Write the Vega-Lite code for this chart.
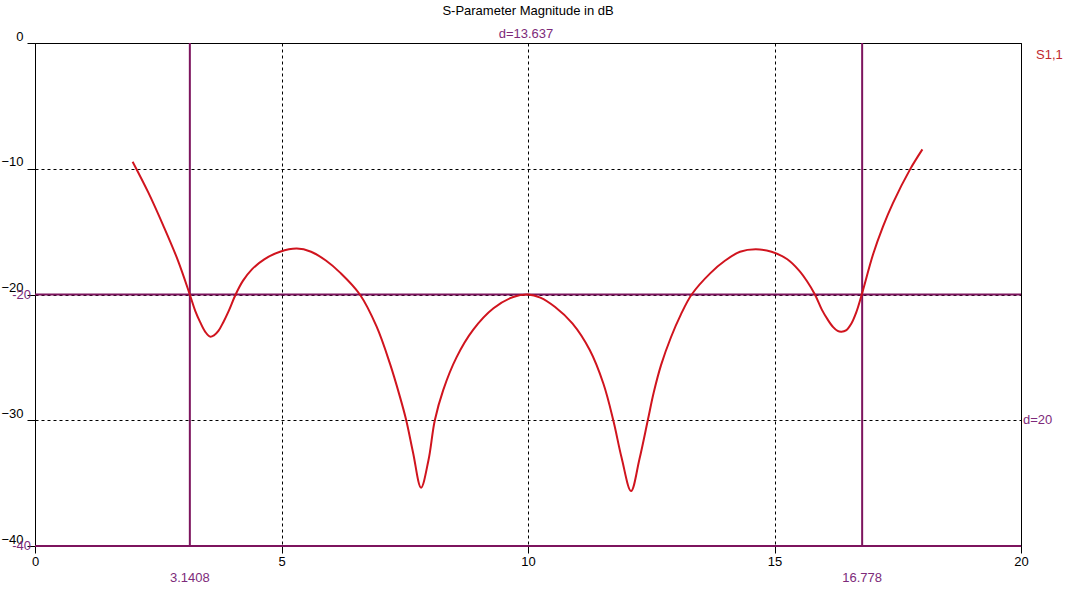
{
  "$schema": "https://vega.github.io/schema/vega-lite/v6.json",
  "width": 986,
  "height": 503,
  "autosize": "none",
  "padding": {"left": 35, "top": 43, "right": 48, "bottom": 45},
  "background": "white",
  "config": {
    "view": {"stroke": "black", "strokeWidth": 1},
    "font": "Liberation Sans",
    "text": {"font": "Liberation Sans", "fontSize": 13}
  },
  "title": {
    "text": "S-Parameter Magnitude in dB",
    "font": "Liberation Sans",
    "fontSize": 13,
    "fontWeight": "normal",
    "color": "black",
    "anchor": "middle",
    "offset": 10
  },
  "datasets": {
    "curve": [
      {"f": 1.98, "db": -9.44},
      {"f": 2.3, "db": -11.9},
      {"f": 2.6, "db": -14.5},
      {"f": 2.9, "db": -17.3},
      {"f": 3.14, "db": -20.0},
      {"f": 3.25, "db": -21.3},
      {"f": 3.35, "db": -22.2},
      {"f": 3.45, "db": -22.95},
      {"f": 3.55, "db": -23.35},
      {"f": 3.63, "db": -23.25},
      {"f": 3.72, "db": -22.9},
      {"f": 3.82, "db": -22.2},
      {"f": 3.93, "db": -21.3},
      {"f": 4.07, "db": -20.0},
      {"f": 4.22, "db": -18.9},
      {"f": 4.4, "db": -18.0},
      {"f": 4.65, "db": -17.2},
      {"f": 4.97, "db": -16.6},
      {"f": 5.31, "db": -16.35},
      {"f": 5.6, "db": -16.6},
      {"f": 5.9, "db": -17.3},
      {"f": 6.2, "db": -18.3},
      {"f": 6.59, "db": -20.0},
      {"f": 6.93, "db": -22.56},
      {"f": 7.2, "db": -25.5},
      {"f": 7.4, "db": -28.1},
      {"f": 7.53, "db": -30.0},
      {"f": 7.67, "db": -32.6},
      {"f": 7.83, "db": -35.36},
      {"f": 7.98, "db": -33.2},
      {"f": 8.11, "db": -30.0},
      {"f": 8.28, "db": -27.6},
      {"f": 8.55, "db": -25.0},
      {"f": 8.89, "db": -22.8},
      {"f": 9.3, "db": -21.1},
      {"f": 9.7, "db": -20.2},
      {"f": 10.0, "db": -20.0},
      {"f": 10.25, "db": -20.25},
      {"f": 10.55, "db": -21.0},
      {"f": 10.9, "db": -22.3},
      {"f": 11.25, "db": -24.4},
      {"f": 11.53, "db": -27.1},
      {"f": 11.73, "db": -30.0},
      {"f": 11.9, "db": -33.0},
      {"f": 12.09, "db": -35.63},
      {"f": 12.26, "db": -33.1},
      {"f": 12.43, "db": -30.0},
      {"f": 12.55, "db": -27.8},
      {"f": 12.7, "db": -25.6},
      {"f": 12.9, "db": -23.4},
      {"f": 13.1, "db": -21.6},
      {"f": 13.32, "db": -20.0},
      {"f": 13.7, "db": -18.3},
      {"f": 14.0, "db": -17.3},
      {"f": 14.3, "db": -16.6},
      {"f": 14.62, "db": -16.4},
      {"f": 14.94, "db": -16.6},
      {"f": 15.26, "db": -17.2},
      {"f": 15.5, "db": -18.1},
      {"f": 15.66, "db": -18.95},
      {"f": 15.82, "db": -20.0},
      {"f": 15.96, "db": -21.2},
      {"f": 16.08, "db": -22.0},
      {"f": 16.19, "db": -22.6},
      {"f": 16.28, "db": -22.9},
      {"f": 16.36, "db": -22.96},
      {"f": 16.45, "db": -22.85},
      {"f": 16.56, "db": -22.3},
      {"f": 16.66, "db": -21.4},
      {"f": 16.77, "db": -20.0},
      {"f": 17.0, "db": -16.8},
      {"f": 17.2, "db": -14.6},
      {"f": 17.4, "db": -12.75},
      {"f": 17.75, "db": -10.05},
      {"f": 18.0, "db": -8.46}
    ],
    "vmarkers": [
      {"f": 3.1408, "label": "3.1408"},
      {"f": 16.778, "label": "16.778"}
    ],
    "hmarkers": [
      {"db": -20, "label": "-20"},
      {"db": -40, "label": "-40"}
    ],
    "dx": [{"f": 9.96, "db": 0, "label": "d=13.637"}],
    "dy": [{"f": 20, "db": -30, "label": "d=20"}],
    "trace": [{"f": 20, "db": 0, "label": "S1,1"}]
  },
  "layer": [
    {
      "data": {"name": "vmarkers"},
      "mark": {"type": "rule", "color": "#7d145e", "strokeWidth": 2},
      "encoding": {
        "x": {"field": "f", "type": "quantitative", "scale": {"domain": [0, 20], "nice": false, "zero": false}}
      }
    },
    {
      "data": {"name": "hmarkers"},
      "mark": {"type": "rule", "color": "#7d145e", "strokeWidth": 2},
      "encoding": {
        "y": {"field": "db", "type": "quantitative", "scale": {"domain": [-40, 0], "nice": false, "zero": false}}
      }
    },
    {
      "data": {"name": "curve"},
      "mark": {"type": "line", "color": "#d0141e", "strokeWidth": 2, "interpolate": "catmull-rom"},
      "encoding": {
        "x": {
          "field": "f", "type": "quantitative",
          "scale": {"domain": [0, 20], "nice": false, "zero": false},
          "axis": {
            "title": null, "values": [0, 5, 10, 15, 20], "grid": true,
            "gridColor": "black", "gridDash": [3, 3], "gridOpacity": 1, "gridWidth": 1,
            "domain": false, "tickColor": "black", "tickSize": 7,
            "labelFont": "Liberation Sans", "labelFontSize": 13, "labelColor": "black",
            "labelPadding": 2, "labelFlush": false
          }
        },
        "y": {
          "field": "db", "type": "quantitative",
          "scale": {"domain": [-40, 0], "nice": false, "zero": false},
          "axis": {
            "title": null, "values": [0, -10, -20, -30, -40], "grid": true,
            "gridColor": "black", "gridDash": [3, 3], "gridOpacity": 1, "gridWidth": 1,
            "domain": false, "tickColor": "black", "tickSize": 8,
            "labelFont": "Liberation Sans", "labelFontSize": 13, "labelColor": "black",
            "labelBaseline": "bottom", "labelPadding": 4, "labelFlush": false
          }
        }
      }
    },
    {
      "data": {"name": "hmarkers"},
      "mark": {"type": "text", "color": "#7d2a7a", "align": "right", "baseline": "middle", "dx": -4, "fontSize": 13},
      "encoding": {
        "x": {"datum": 0, "type": "quantitative"},
        "y": {"field": "db", "type": "quantitative"},
        "text": {"field": "label"}
      }
    },
    {
      "data": {"name": "vmarkers"},
      "mark": {"type": "text", "color": "#7d2a7a", "align": "center", "baseline": "middle", "dy": 32, "fontSize": 13},
      "encoding": {
        "x": {"field": "f", "type": "quantitative"},
        "y": {"datum": -40, "type": "quantitative"},
        "text": {"field": "label"}
      }
    },
    {
      "data": {"name": "dx"},
      "mark": {"type": "text", "color": "#7d2a7a", "align": "center", "baseline": "middle", "dy": -9, "fontSize": 13},
      "encoding": {
        "x": {"field": "f", "type": "quantitative"},
        "y": {"field": "db", "type": "quantitative"},
        "text": {"field": "label"}
      }
    },
    {
      "data": {"name": "dy"},
      "mark": {"type": "text", "color": "#7d2a7a", "align": "left", "baseline": "middle", "dx": 2, "fontSize": 13},
      "encoding": {
        "x": {"field": "f", "type": "quantitative"},
        "y": {"field": "db", "type": "quantitative"},
        "text": {"field": "label"}
      }
    },
    {
      "data": {"name": "trace"},
      "mark": {"type": "text", "color": "#c0282e", "align": "left", "baseline": "middle", "dx": 15, "dy": 12, "fontSize": 13},
      "encoding": {
        "x": {"field": "f", "type": "quantitative"},
        "y": {"field": "db", "type": "quantitative"},
        "text": {"field": "label"}
      }
    }
  ]
}
